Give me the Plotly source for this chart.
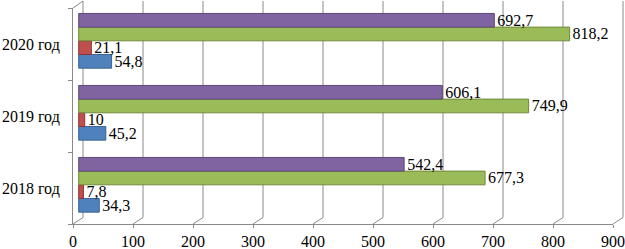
import plotly.graph_objects as go

# ---- data ----
categories = ["2018 год", "2019 год", "2020 год"]
series_blue = [34.3, 45.2, 54.8]
series_red = [7.8, 10, 21.1]
series_green = [677.3, 749.9, 818.2]
series_purple = [542.4, 606.1, 692.7]
x_ticks = [0, 100, 200, 300, 400, 500, 600, 700, 800, 900]

# ---- styling / layout constants ----
FONT = "Liberation Serif"
GRID = "#8a8a8a"
X_MAX = 900
PLOT_W = 540            # px width of the front plot area
PLOT_H = 216            # px height of the front plot area
PX_PER_UNIT = PLOT_W / X_MAX
BAR_SHIFT_PX = 5.7      # bars sit at mid depth of the 3-D box
SHIFT = BAR_SHIFT_PX / PX_PER_UNIT
DEPTH_X = 10            # px offset of the back wall
DEPTH_Y = 6.5
BACK_TOP_PX = 7         # back wall top above front plot top

def fmt(v):
    return str(v).replace(".", ",")

series = [
    (series_blue, "#4F81BD", "#3A6395"),
    (series_red, "#C0504D", "#8E3432"),
    (series_green, "#9BBB59", "#6F8A3A"),
    (series_purple, "#8064A2", "#5C4778"),
]

n = len(series)
group_w = 0.76
bw = group_w / n
y_shift = 3.2 / (PLOT_H / len(categories))

fig = go.Figure()
for i, (vals, col, dark) in enumerate(series):
    fig.add_trace(go.Bar(
        y=categories, x=vals, orientation="h",
        width=bw, offset=-group_w / 2 + i * bw + y_shift,
        marker=dict(color=col, line=dict(color=dark, width=1)),
        text=[fmt(v) for v in vals], textposition="outside",
        textfont=dict(family=FONT, size=16, color="black"),
        constraintext="none", cliponaxis=False,
        showlegend=False, hoverinfo="skip",
    ))

# 3-D box decorations in paper coordinates, derived from tick list
shapes = []
dx = DEPTH_X / PLOT_W
dy = DEPTH_Y / PLOT_H
top = 1 + BACK_TOP_PX / PLOT_H
for t in x_ticks:
    px = t / X_MAX
    shapes.append(dict(type="line", xref="paper", yref="paper",
                       x0=px + dx, x1=px + dx, y0=dy, y1=top,
                       line=dict(color=GRID, width=1), layer="below"))
    shapes.append(dict(type="line", xref="paper", yref="paper",
                       x0=px, x1=px + dx, y0=0, y1=dy,
                       line=dict(color=GRID, width=1), layer="below"))
shapes.append(dict(type="line", xref="paper", yref="paper",
                   x0=0, x1=dx, y0=1, y1=top,
                   line=dict(color=GRID, width=1), layer="below"))

fig.update_layout(
    width=625, height=249,
    margin=dict(l=73, r=12, t=8, b=25, autoexpand=False),
    paper_bgcolor="white", plot_bgcolor="rgba(0,0,0,0)",
    barmode="group",
    shapes=shapes,
    font=dict(family=FONT, size=16, color="black"),
    xaxis=dict(
        range=[-SHIFT, X_MAX - SHIFT],
        tickvals=[t - SHIFT for t in x_ticks],
        ticktext=[str(t) for t in x_ticks],
        showgrid=False, zeroline=False, automargin=False,
        showline=True, linecolor=GRID, linewidth=1,
        ticks="outside", ticklen=3, tickcolor=GRID,
        ticklabelstandoff=0,
        tickfont=dict(family=FONT, size=16, color="black"),
        fixedrange=True,
    ),
    yaxis=dict(
        type="category", categoryorder="array", categoryarray=categories,
        range=[-0.5, len(categories) - 0.5],
        tickson="boundaries", automargin=False,
        showgrid=False, zeroline=False,
        showline=True, linecolor=GRID, linewidth=1,
        ticks="outside", ticklen=4, tickcolor=GRID,
        ticklabelstandoff=9,
        tickfont=dict(family=FONT, size=16, color="black"),
        fixedrange=True,
    ),
)

fig.write_html(
    "out.html",
    config={"displayModeBar": False},
    post_script="document.body.style.margin='0';document.body.style.overflow='hidden';",
)
